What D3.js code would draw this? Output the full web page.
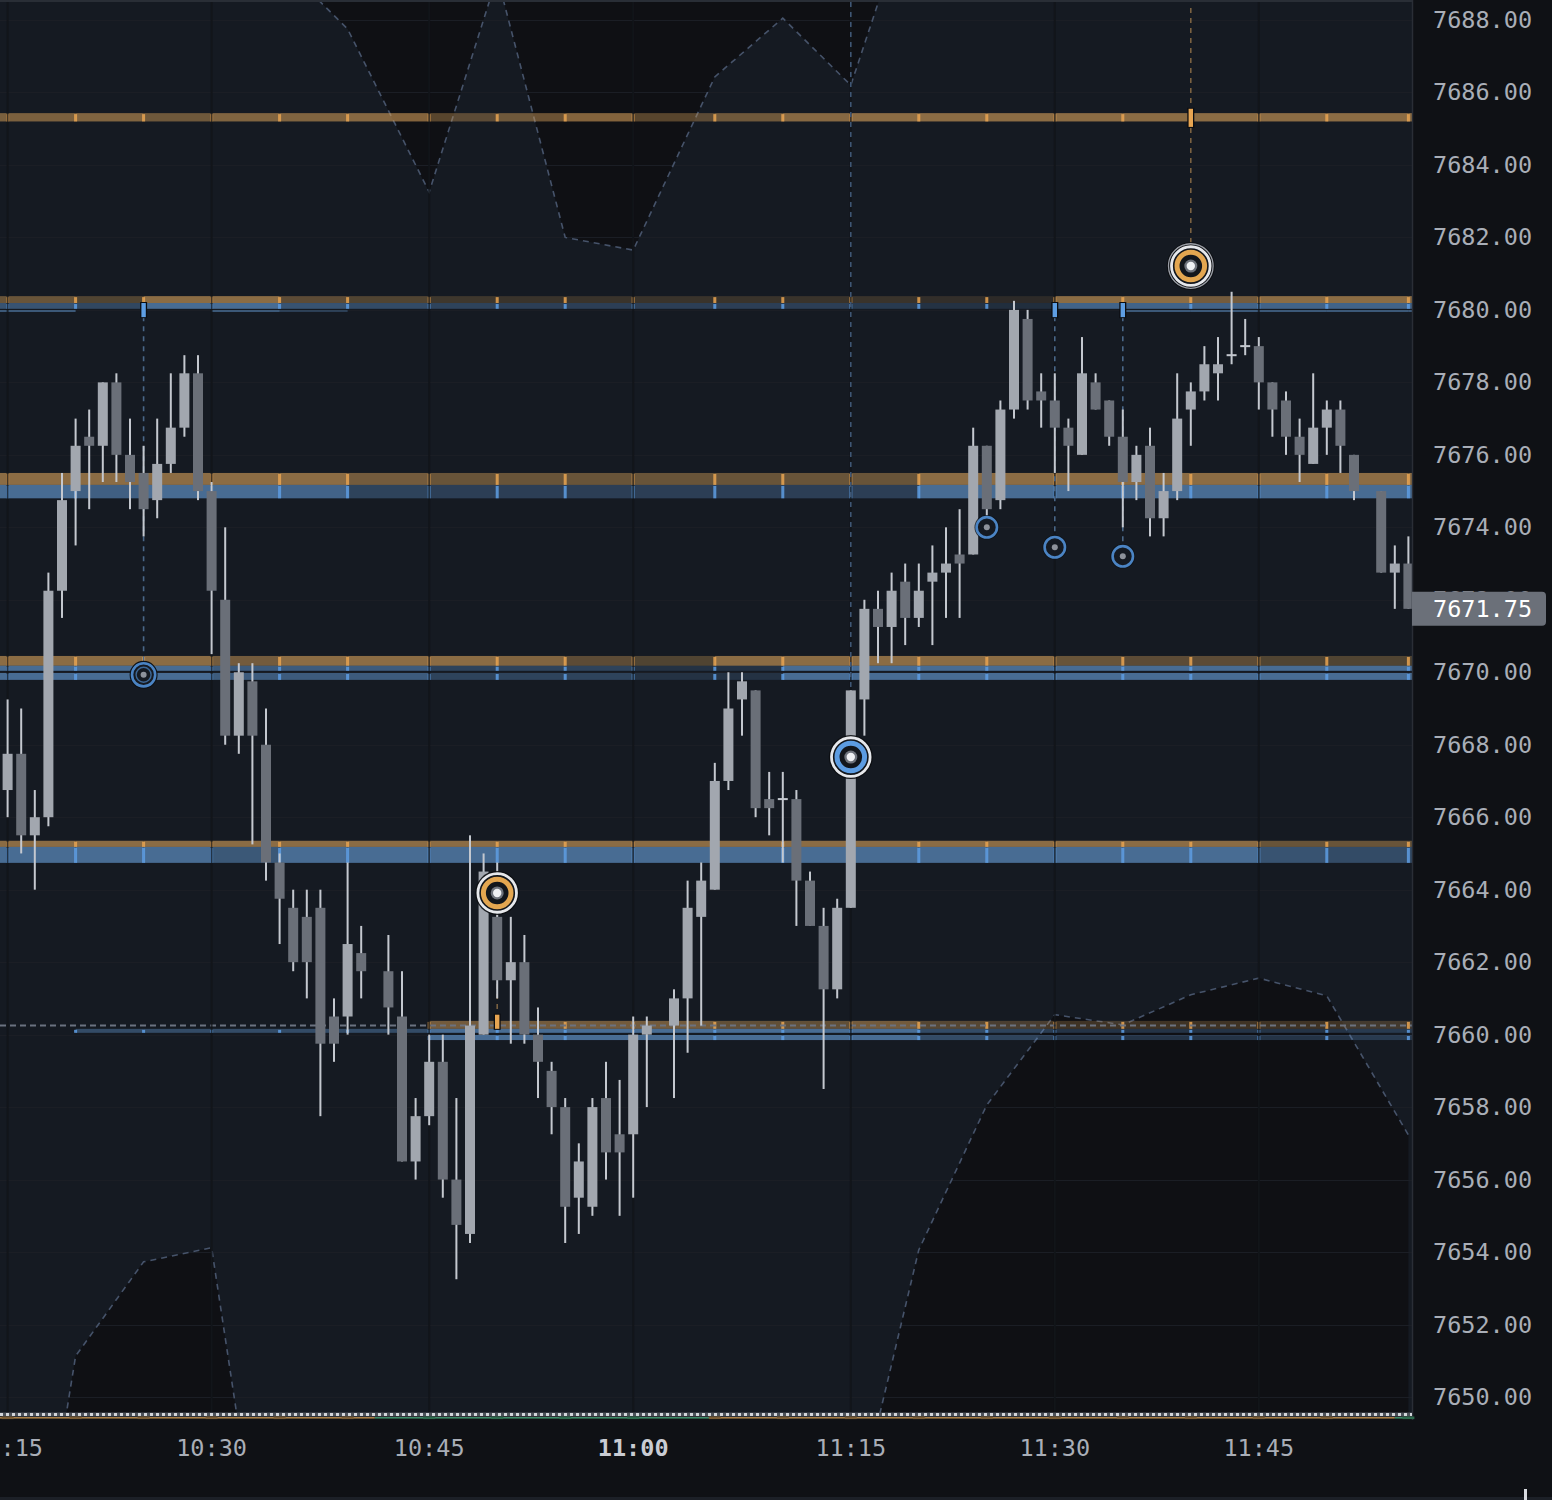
<!DOCTYPE html>
<html><head><meta charset="utf-8">
<script src="https://cdn.jsdelivr.net/npm/d3@7"></script>
<style>html,body{margin:0;padding:0;background:#0f1115;}svg{display:block}</style>
</head><body>
<svg id="c" width="1552" height="1500"></svg>
<script>
// ---------------- DATA ----------------
const candleSlot = [0,1,2,3,4,5,6,7,8,9,10,11,12,13,14,15,16,17,18,19,20,21,22,23,24,25,26,
 28,29,30,31,32,33,34,35,36,37,38,39,40,41,42,43,44,45,46,47,
 49,50,51,52,53,54,55,56,57,58,59,60,61,62,63,64,65,66,67,68,69,70,71,72,73,74,75,76,77,78,79,80,
 81,82,83,84,85,86,87,88,89,90,91,92,93,94,95,96,97,98,99,101,102,103];
const candleOpen = [7666.75,7667.75,7665.5,7666.0,7672.25,7675.0,7676.5,7676.25,7678.0,7676.0,7675.5,7674.75,7675.75,7676.75,7678.25,7675.0,7672.0,7668.25,7669.75,7668.0,7664.75,7663.5,7663.25,7663.5,7660.5,7660.5,7662.25,
 7661.75,7660.5,7656.5,7657.75,7659.25,7656.0,7654.5,7660.0,7663.25,7661.5,7662.0,7660.0,7659.0,7658.0,7655.5,7655.25,7658.25,7657.25,7657.25,7660.0,
 7660.25,7661.0,7663.25,7664.0,7667.0,7669.25,7669.5,7666.5,7666.5,7666.5,7664.25,7663.0,7661.25,7663.5,7669.25,7671.75,7671.25,7672.5,7671.5,7672.5,7672.75,7673.25,7673.25,7676.25,7674.75,7677.25,7679.75,7677.75,7677.5,7676.75,7676.0,7678.0,
 7677.5,7676.5,7675.25,7676.25,7674.25,7675.0,7677.25,7677.75,7678.25,7678.75,7679.0,7679.0,7678.0,7677.5,7676.5,7675.75,7676.75,7677.25,7676.0,7675.0,7672.75,7673.0];
const candleHigh = [7669.25,7669.0,7666.75,7672.75,7675.5,7677.0,7677.25,7678.0,7678.25,7677.0,7676.25,7677.0,7678.25,7678.75,7678.75,7675.25,7674.0,7670.25,7670.25,7669.0,7665.0,7664.0,7664.0,7664.0,7661.0,7664.75,7663.0,
 7662.75,7661.75,7658.25,7660.0,7660.0,7658.25,7665.5,7665.0,7664.75,7663.25,7662.75,7660.75,7659.25,7658.25,7657.0,7658.25,7659.25,7658.75,7660.5,7660.5,
 7661.25,7664.25,7664.75,7667.5,7670.0,7670.0,7669.5,7667.25,7667.25,7666.75,7664.5,7663.5,7663.75,7669.5,7672.0,7672.25,7672.75,7673.0,7673.0,7673.5,7674.0,7674.5,7676.75,7676.25,7677.5,7680.25,7680.0,7678.25,7678.25,7677.0,7679.25,7678.25,
 7677.5,7677.25,7676.25,7676.75,7675.5,7678.25,7678.0,7679.0,7679.25,7680.5,7679.75,7679.25,7678.0,7677.75,7677.0,7678.25,7677.5,7677.5,7676.0,7675.0,7673.5,7673.75];
const candleLow = [7666.0,7665.0,7664.0,7665.75,7671.5,7673.5,7674.5,7675.25,7675.25,7674.5,7673.75,7674.25,7675.5,7676.5,7674.75,7670.5,7668.0,7667.75,7665.25,7664.25,7662.5,7661.75,7661.0,7657.75,7659.25,7660.0,7661.0,
 7660.0,7656.5,7656.0,7657.5,7655.5,7653.25,7654.25,7660.0,7661.0,7659.75,7659.75,7658.25,7657.25,7654.25,7654.5,7655.0,7656.0,7655.0,7655.5,7658.0,
 7658.25,7659.5,7660.25,7664.0,7666.75,7668.25,7666.0,7665.5,7664.75,7663.0,7663.0,7658.5,7661.0,7663.5,7668.25,7670.25,7670.25,7670.75,7671.25,7670.75,7671.5,7671.5,7673.25,7674.25,7674.5,7677.0,7677.25,7676.75,7675.5,7675.0,7676.0,7677.25,
 7676.25,7674.0,7674.75,7673.75,7673.75,7674.75,7676.25,7677.5,7677.5,7678.5,7678.75,7677.25,7676.5,7676.0,7675.25,7675.75,7676.0,7675.5,7674.75,7672.75,7671.75,7671.75];
const candleClose = [7667.75,7665.5,7666.0,7672.25,7674.75,7676.25,7676.25,7678.0,7676.0,7675.25,7674.5,7675.75,7676.75,7678.25,7675.0,7672.25,7668.25,7670.0,7668.25,7664.75,7663.75,7662.0,7662.0,7659.75,7659.75,7662.5,7661.75,
 7660.75,7656.5,7657.75,7659.25,7656.0,7654.75,7660.25,7664.5,7661.5,7662.0,7660.0,7659.25,7658.0,7655.25,7656.5,7658.0,7656.75,7656.75,7660.0,7660.25,
 7661.0,7663.5,7664.25,7667.0,7669.0,7669.75,7666.25,7666.25,7666.5,7664.25,7663.0,7661.25,7663.5,7669.5,7671.75,7671.25,7672.25,7671.5,7672.25,7672.75,7673.0,7673.0,7676.25,7674.5,7677.25,7680.0,7677.5,7677.5,7676.75,7676.25,7678.25,7677.25,
 7676.5,7675.25,7676.0,7674.25,7675.0,7677.0,7677.75,7678.5,7678.5,7678.75,7679.0,7678.0,7677.25,7676.5,7676.0,7676.75,7677.25,7676.25,7675.0,7672.75,7673.0,7671.75];

const priceTicks = [7650,7652,7654,7656,7658,7660,7662,7664,7666,7668,7670,7672,7674,7676,7678,7680,7682,7684,7686,7688];
const timeTickSlot = [0,15,31,46,62,77,92];
const timeTickLabel = ["10:15","10:30","10:45","11:00","11:15","11:30","11:45"];
const boldTimeLabel = "11:00";
const lastPrice = 7671.75;

// envelope (dashed cloud) boundaries
const upperSlot  = [0,5,10,15,20,25,31,36,41,46,52,57,62,67,72,77,82,87,92,97,103];
const upperPrice = [7693,7694,7693,7692,7689.62,7687.75,7683.25,7689.2,7682.0,7681.65,7686.43,7688.05,7686.2,7691.85,7693,7694,7693,7694,7692,7693,7692];
const lowerSlot  = [0,5,10,15,20,25,31,36,41,46,52,57,62,67,72,77,82,87,92,97,103];
const lowerPrice = [7639.5,7651.13,7653.73,7654.12,7641.7,7640,7638,7640,7639,7641,7640,7642,7646.17,7654.06,7658.06,7660.55,7660.27,7661.1,7661.56,7661.07,7657.23];

// level zones
const segmentEdge = [-3,0,5,10,15,20,25,31,36,41,46,52,57,62,67,72,77,82,87,92,97,103,106];
const zoneLow  = [7685.2, 7680.19,7680.03,7679.95, 7675.17,7674.8, 7670.18,7670.04,7669.79, 7665.18,7664.74, 7660.16,7660.05,7659.85];
const zoneHigh = [7685.43,7680.38,7680.19,7679.99, 7675.5, 7675.17,7670.45,7670.18,7669.98, 7665.35,7665.18, 7660.38,7660.16,7659.99];
const zoneSide = ["sell","sell","buy","buy","sell","buy","sell","buy","buy","sell","buy","sell","buy","buy"];
const zoneStrength = [
 [0.85,0.9,0.75,0.9,0.9,0.95,0.6,0.75,0.95,0.6,0.75,0.95,1,1,1,1,1,1,1,1],
 [0.7,0.5,1,1,0.6,0.5,0.35,0.3,0.3,0.3,0.3,0.3,0.3,0.25,0.2,1,1,0.8,1,1],
 [0.7,0.55,1,1,0.7,0.6,0.5,0.45,0.45,0.45,0.45,0.45,0.4,0.3,0.25,0.9,0.9,0.9,0.9,0.9],
 [1,0,0,1,0.6,0,0,0,0,0,0,0,0,0,0,0,1,1,1,1],
 [1,1,1,1,1,0.8,0.7,0.7,0.7,0.7,0.7,0.7,0.7,1,1,1,1,1,1,1],
 [1,0.85,1,1,0.9,0.5,0.45,0.45,0.45,0.45,0.45,0.45,0.45,1,1,1,1,1,1,1],
 [1,1,1,0.8,1,1,1,0.9,0.6,0.5,1,1,1,1,1,0.7,0.6,0.6,0.5,0.5],
 [1,1,1,0.8,0.8,0.8,0.5,0.5,0.5,0.3,0.3,1,1,1,1,1,1,1,1,1],
 [1,1,1,0.8,0.8,0.8,0.5,0.5,0.5,0.3,0.3,1,1,1,1,1,1,1,1,1],
 [1,1,1,1,1,1,1,1,1,1,1,1,1,1,1,1,1,1,0.7,0.7],
 [1,1,1,0.75,1,1,1,1,1,1,1,1,1,1,1,1,1,1,0.7,0.6],
 [0,0,0,0,0,0,0.8,0.8,0.8,0.8,0.65,0.65,0.8,0.55,0.45,0.4,0.4,0.4,0.4,0.4],
 [0,0.6,0.6,0.6,0.6,0.6,1,1,1,1,1,1,1,0.6,0.5,0.4,0.4,0.4,0.4,0.4],
 [0,0,0,0,0,0,1,1,1,1,1,1,1,0.6,0.5,0.4,0.4,0.4,0.4,0.4]
];
const refLevel = 7660.25;

// signal markers
const smallRingSlot = [72,77,82];
const smallRingPrice = [7674.0,7673.45,7673.2];
const smallRingAnchor = [null,7680.1,7680.1];
const doubleRingSlot = 10, doubleRingPrice = 7669.93, doubleRingAnchor = 7680.1;
const bigBuySlot = 62, bigBuyPrice = 7667.66;
const bigSellSlot = [36,87];
const bigSellPrice = [7663.91,7681.21];

// ---------------- DRAW ----------------
const W=1552,H=1500, pL=0,pR=1412,pT=2,pB=1413;
const svg=d3.select('#c');
const x=d3.scaleLinear().domain([0,103]).range([7.6,1408.4]);
const y=d3.scaleLinear().domain([7650,7688]).range([1397,20]);
const ORANGE="#dba45b", BLUE="#6aa3e0", OTICK="#e7a552", BTICK="#5e9ee3";
const INSIDE="#151a22", OUTSIDE="#0f1014";

svg.append('rect').attr('width',W).attr('height',H).attr('fill','#0f1115');
const defs=svg.append('defs');
defs.append('clipPath').attr('id','plot').append('rect')
  .attr('x',pL).attr('y',pT).attr('width',pR-pL).attr('height',pB-pT);
const boxTop=y(lastPrice)-17, boxBot=y(lastPrice)+17;
const axClip=defs.append('clipPath').attr('id','axclip');
axClip.append('rect').attr('x',pR).attr('y',0).attr('width',W-pR).attr('height',boxTop);
axClip.append('rect').attr('x',pR).attr('y',boxBot).attr('width',W-pR).attr('height',H-boxBot);

const g=svg.append('g').attr('clip-path','url(#plot)');
g.append('rect').attr('x',pL).attr('y',pT).attr('width',pR-pL).attr('height',pB-pT).attr('fill',INSIDE);

const up = upperSlot.map((s,i)=>[x(s),y(upperPrice[i])]);
const lo = lowerSlot.map((s,i)=>[x(s),y(lowerPrice[i])]);
g.append('path').attr('d',d3.area().x(d=>d[0]).y0(-100).y1(d=>d[1])(up)).attr('fill',OUTSIDE);
g.append('path').attr('d',d3.area().x(d=>d[0]).y0(d=>d[1]).y1(1700)(lo)).attr('fill',OUTSIDE);

// grid
g.selectAll('.hg').data(priceTicks).join('line').attr('x1',pL).attr('x2',pR)
 .attr('y1',d=>Math.round(y(d))+0.5).attr('y2',d=>Math.round(y(d))+0.5).attr('stroke','#1b1e25').attr('stroke-width',1.2);
g.selectAll('.vg').data(timeTickSlot).join('line').attr('x1',d=>x(d)).attr('x2',d=>x(d))
 .attr('y1',pT).attr('y2',pB).attr('stroke','#1b1e25').attr('stroke-width',1.2);

// envelope lines
const ln=d3.line();
[up,lo].forEach(p=>g.append('path').attr('d',ln(p)).attr('fill','none').attr('stroke','#46536a')
  .attr('stroke-width',1.6).attr('stroke-dasharray','6,5'));

// zones
zoneLow.forEach((lv,zi)=>{
  const col = zoneSide[zi]==='sell'?ORANGE:BLUE;
  const tcol = zoneSide[zi]==='sell'?OTICK:BTICK;
  const st = zoneStrength[zi];
  const full=[st[0],...st,st[st.length-1]];
  const y0=y(zoneHigh[zi]), y1=y(lv), hh=Math.max(1.5,y1-y0);
  for(let k=0;k<segmentEdge.length-1;k++){
    if(full[k]<=0) continue;
    g.append('rect').attr('x',x(segmentEdge[k])).attr('width',x(segmentEdge[k+1])-x(segmentEdge[k]))
     .attr('y',y0).attr('height',hh).attr('fill',col).attr('opacity',0.6*full[k]);
  }
  if(hh>3){
    for(let k=1;k<segmentEdge.length-1;k++){
      if(full[k-1]<=0 && full[k]<=0) continue;
      g.append('rect').attr('x',x(segmentEdge[k])-1.5).attr('width',3).attr('y',y0+1).attr('height',hh-1)
       .attr('fill',tcol).attr('opacity',0.85);
    }
  }
});
// reference dashed level
g.append('line').attr('x1',pL).attr('x2',pR).attr('y1',y(refLevel)).attr('y2',y(refLevel))
 .attr('stroke','#6b7280').attr('stroke-width',2).attr('stroke-dasharray','6,4');

// vertical separators over zones
g.selectAll('.vs').data(timeTickSlot).join('line').attr('x1',d=>x(d)).attr('x2',d=>x(d))
 .attr('y1',pT).attr('y2',pB).attr('stroke','#101317').attr('stroke-width',2).attr('opacity',0.75);

// dashed signal lines
function vdash(s,p0,p1,col){
  g.append('line').attr('x1',x(s)).attr('x2',x(s)).attr('y1',p0).attr('y2',p1)
   .attr('stroke',col).attr('stroke-width',1.6).attr('stroke-dasharray','5,5');
}
function tickBox(s,pHi,pLo,col){
  g.append('rect').attr('x',x(s)-3.5).attr('width',7).attr('y',y(pHi)-1).attr('height',y(pLo)-y(pHi)+2)
   .attr('fill','#0c0e12');
  g.append('rect').attr('x',x(s)-2.2).attr('width',4.4).attr('y',y(pHi)).attr('height',y(pLo)-y(pHi))
   .attr('fill',col);
}
vdash(bigBuySlot,pT,y(bigBuyPrice)-21,'#3f5674');
vdash(doubleRingSlot,y(doubleRingAnchor),y(doubleRingPrice)-13,'#4a6788');
smallRingSlot.forEach((s,i)=>{ if(smallRingAnchor[i]!==null) vdash(s,y(smallRingAnchor[i]),y(smallRingPrice[i])-12,'#4a6788'); });
vdash(bigSellSlot[0],y(bigSellPrice[0])+21,y(7660.35),'#7a6141');
vdash(bigSellSlot[1],pT+6,y(bigSellPrice[1])-22,'#7a6141');

// candles
const cg=g.append('g');
candleSlot.forEach((s,i)=>{
  const o=candleOpen[i],c=candleClose[i],h=candleHigh[i],l=candleLow[i];
  const cx=x(s);
  cg.append('rect').attr('x',cx-1).attr('width',2).attr('y',y(h)).attr('height',Math.max(1,y(l)-y(h))).attr('fill','#c4c8cf');
  if(o===c){
    cg.append('rect').attr('x',cx-5).attr('width',10).attr('y',y(o)-1).attr('height',2).attr('fill','#c4c8cf');
  } else {
    const top=y(Math.max(o,c)), bot=y(Math.min(o,c));
    cg.append('rect').attr('x',cx-5).attr('width',10).attr('y',top).attr('height',Math.max(1.5,bot-top))
      .attr('fill',c>o?'#a2a7af':'#6a6f78');
  }
});

// tick boxes on levels
tickBox(doubleRingSlot,7680.19,7679.8,'#5e9ee3');
smallRingSlot.forEach((s,i)=>{ if(smallRingAnchor[i]!==null) tickBox(s,7680.19,7679.8,'#5e9ee3'); });
tickBox(bigSellSlot[1],7685.55,7685.05,'#e7a552');
tickBox(bigSellSlot[0],7660.55,7660.16,'#e7a552');

// markers
const mg=g.append('g');
smallRingSlot.forEach((s,i)=>{
  const cx=x(s),cy=y(smallRingPrice[i]);
  mg.append('circle').attr('cx',cx).attr('cy',cy).attr('r',12.3).attr('fill','#0d1014').attr('opacity',0.8);
  mg.append('circle').attr('cx',cx).attr('cy',cy).attr('r',10.2).attr('fill',INSIDE).attr('stroke','#4b84c4').attr('stroke-width',2.6);
  mg.append('circle').attr('cx',cx).attr('cy',cy).attr('r',3).attr('fill','#8d929b');
});
{
  const cx=x(doubleRingSlot),cy=y(doubleRingPrice);
  mg.append('circle').attr('cx',cx).attr('cy',cy).attr('r',14).attr('fill','#0d1014');
  mg.append('circle').attr('cx',cx).attr('cy',cy).attr('r',11.6).attr('fill',INSIDE).attr('stroke','#4b84c4').attr('stroke-width',2.6);
  mg.append('circle').attr('cx',cx).attr('cy',cy).attr('r',7.5).attr('fill','none').attr('stroke','#3d6795').attr('stroke-width',1.4);
  mg.append('circle').attr('cx',cx).attr('cy',cy).attr('r',3).attr('fill','#8d929b');
}
function bigMarker(cx,cy,col,halo){
  mg.append('circle').attr('cx',cx).attr('cy',cy).attr('r',halo?24:22).attr('fill','#0b0d11').attr('opacity',0.9);
  if(halo) mg.append('circle').attr('cx',cx).attr('cy',cy).attr('r',22.3).attr('fill','none').attr('stroke','#9a9ea6').attr('stroke-width',1.3);
  mg.append('circle').attr('cx',cx).attr('cy',cy).attr('r',19.3).attr('fill','#12161c').attr('stroke','#e6e8ec').attr('stroke-width',2.8);
  mg.append('circle').attr('cx',cx).attr('cy',cy).attr('r',13.8).attr('fill','#12161c').attr('stroke',col).attr('stroke-width',5);
  mg.append('circle').attr('cx',cx).attr('cy',cy).attr('r',6.5).attr('fill','#6e737c');
  mg.append('circle').attr('cx',cx).attr('cy',cy).attr('r',4.2).attr('fill','#eef0f3');
}
bigMarker(x(bigBuySlot),y(bigBuyPrice),'#5c9ce2',false);
bigMarker(x(bigSellSlot[0]),y(bigSellPrice[0]),'#e3a650',false);
bigMarker(x(bigSellSlot[1]),y(bigSellPrice[1]),'#e3a650',true);

// frame
svg.append('rect').attr('x',pL).attr('y',0).attr('width',pR).attr('height',2).attr('fill','#292e36');
svg.append('line').attr('x1',pR+0.5).attr('x2',pR+0.5).attr('y1',0).attr('y2',1420).attr('stroke','#2a2e36').attr('stroke-width',1.5);

// bottom strip
svg.append('rect').attr('x',pL).attr('y',1412.5).attr('width',pR).attr('height',4).attr('fill','#4c5159');
svg.append('line').attr('x1',pL).attr('x2',pR).attr('y1',1414.5).attr('y2',1414.5).attr('stroke','#d2d5da')
  .attr('stroke-width',3).attr('stroke-dasharray','3,3');
const stripSeg=[[-3,27,'#a87e46'],[27,52,'#3e8a66'],[52,102,'#a87e46'],[102,106,'#3e8a66']];
stripSeg.forEach(sg=>svg.append('rect').attr('x',Math.max(0,x(sg[0]))).attr('y',1417).attr('width',Math.min(pR,x(sg[1]))-Math.max(0,x(sg[0]))).attr('height',1.6).attr('fill',sg[2]));
segmentEdge.slice(1,-1).forEach(e=>svg.append('rect').attr('x',x(e)-6).attr('y',1416.5).attr('width',12).attr('height',2.6)
  .attr('fill',e>=27&&e<52||e>=102?'#2e6a4d':'#7a5c35'));

// price axis labels (clipped where the last-price box sits on top)
const axisFont="'DejaVu Sans Mono', monospace";
svg.append('g').attr('clip-path','url(#axclip)').selectAll('text').data(priceTicks).join('text').attr('x',1433).attr('y',d=>y(d))
  .attr('dominant-baseline','central').attr('font-family',axisFont).attr('font-size',23.5)
  .attr('fill','#a9aeb7').text(d=>d3.format('.2f')(d));
// last price box
svg.append('path').attr('d',(()=>{const x0=1412,x1=1546,y0=boxTop,y1=boxBot,r=4;
  return `M${x0},${y0}H${x1-r}Q${x1},${y0} ${x1},${y0+r}V${y1-r}Q${x1},${y1} ${x1-r},${y1}H${x0}Z`;})())
  .attr('fill','#6b7079');
svg.append('text').attr('x',1433).attr('y',y(lastPrice)).attr('dominant-baseline','central')
  .attr('font-family',axisFont).attr('font-size',23.5).attr('fill','#ffffff').text(d3.format('.2f')(lastPrice));

// time labels
svg.selectAll('.tl').data(timeTickSlot).join('text').attr('x',d=>x(d)).attr('y',1448)
  .attr('text-anchor','middle').attr('dominant-baseline','central').attr('font-family',axisFont)
  .attr('font-size',23.5).attr('font-weight',(d,i)=>timeTickLabel[i]===boldTimeLabel?'bold':'normal')
  .attr('fill',(d,i)=>timeTickLabel[i]===boldTimeLabel?'#c9ccd3':'#a9aeb7').text((d,i)=>timeTickLabel[i]);

svg.append('rect').attr('x',0).attr('y',1497).attr('width',W).attr('height',3).attr('fill','#1c2027');
svg.append('rect').attr('x',1524).attr('y',1489).attr('width',3).attr('height',11).attr('fill','#d8dbe0');
</script>
</body></html>
